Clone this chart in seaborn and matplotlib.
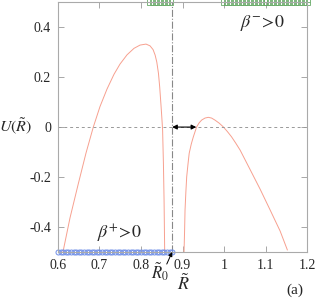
import numpy as np
import pandas as pd
import seaborn as sns
import matplotlib
matplotlib.use("Agg")
import matplotlib.pyplot as plt

# 曲线数据
r_left = [0.612, 0.6289, 0.6482, 0.6675, 0.6851, 0.7012, 0.7181, 0.7349, 0.7494, 0.7663,
          0.7831, 0.7976, 0.812, 0.8217, 0.829, 0.834, 0.838, 0.842, 0.845, 0.848,
          0.850, 0.852, 0.854, 0.8555, 0.857]
u_left = [-0.50, -0.364, -0.232, -0.104, 0.0, 0.082, 0.152, 0.211, 0.252, 0.289,
          0.315, 0.328, 0.332, 0.325, 0.310, 0.288, 0.260, 0.215, 0.160, 0.090,
          0.041, -0.012, -0.150, -0.292, -0.50]
r_right = [0.9036, 0.905, 0.906, 0.908, 0.910, 0.913, 0.916, 0.921, 0.926, 0.934,
           0.940, 0.946, 0.954, 0.962, 0.970, 0.978, 0.988, 0.998, 1.008, 1.018,
           1.028, 1.0386, 1.0627, 1.0867, 1.111, 1.135, 1.1525]
u_right = [-0.50, -0.41, -0.332, -0.26, -0.199, -0.15, -0.105, -0.068, -0.039, 0.001,
           0.017, 0.028, 0.036, 0.039, 0.036, 0.028, 0.016, 0.001, -0.018, -0.039,
           -0.064, -0.092, -0.170, -0.248, -0.332, -0.416, -0.492]

R0 = 0.875
beta_plus_range = [0.6, R0]
beta_minus_ranges = [[0.822, R0], [1.0, 1.2]]

df = pd.concat([
    pd.DataFrame({"R": r_left, "U": u_left, "branch": "left"}),
    pd.DataFrame({"R": r_right, "U": u_right, "branch": "right"}),
])

sns.set_style("ticks")
plt.rcParams["font.family"] = ["Liberation Serif", "DejaVu Serif"]
plt.rcParams["mathtext.fontset"] = "stix"
plt.rcParams["xtick.direction"] = "in"
plt.rcParams["ytick.direction"] = "in"

fig = plt.figure(figsize=(3.15, 2.99), dpi=100)
ax = fig.add_axes([0.184, 0.157, 0.791, 0.836])

sns.lineplot(data=df, x="R", y="U", units="branch", estimator=None, sort=False,
             color="#f7a08f", lw=0.7, ax=ax)

ax.axhline(0, color="#999999", lw=0.7, ls=(0, (3, 3)))
ax.axvline(R0, color="#888888", lw=0.8, ls="-.")

# 区域标记
xb = np.arange(beta_plus_range[0], beta_plus_range[1] + 1e-9, 0.00625)
ax.plot(xb, np.full_like(xb, -0.5), ls="none", marker="o", ms=3.6, mfc="none",
        mec="#6f8fe8", mew=0.7, clip_on=False)
for lo, hi in beta_minus_ranges:
    xg = np.arange(lo, hi + 1e-9, 0.0095)
    ax.plot(xg, np.full_like(xg, 0.5), ls="none", marker="s", ms=4, mfc="none",
            mec="#66aa66", mew=0.6, clip_on=False)
    ax.plot(xg, np.full_like(xg, 0.5), ls="none", marker="+", ms=4,
            mec="#66aa66", mew=0.6, clip_on=False)

ax.annotate("", xy=(R0, 0), xytext=(0.933, 0),
            arrowprops=dict(arrowstyle="<|-|>", color="black", lw=0.8,
                            shrinkA=0, shrinkB=0, mutation_scale=7))

ax.set_xlim(0.6, 1.2)
ax.set_ylim(-0.5, 0.5)
ax.set_xticks([0.6, 0.7, 0.8, 0.9, 1.0, 1.1, 1.2])
ax.set_xticklabels(["0.6", "0.7", "0.8", "0.9", "1", "1.1", "1.2"])
ax.set_yticks([-0.4, -0.2, 0, 0.2, 0.4])
ax.set_yticklabels(["-0.4", "-0.2", "0", "0.2", "0.4"])
ax.tick_params(labelsize=10, length=4, width=0.6, color="#999999",
               top=True, right=True, pad=5)
for s in ax.spines.values():
    s.set_color("#aaaaaa")
    s.set_linewidth(0.8)
ax.set_xlabel("")
ax.set_ylabel("")

fig.text(0.05, 0.575, r"$U(\tilde{R})$", fontsize=11.5, ha="center", va="center")
ax.text(1.093, 0.416, r"$\beta^{-}\!>\!\mathit{0}$", fontsize=13, ha="center", va="center")
ax.text(0.747, -0.428, r"$\beta^{+}\!>\!\mathit{0}$", fontsize=13, ha="center", va="center")
ax.text(0.846, -0.58, r"$\tilde{R}_0$", fontsize=12, ha="center", va="center")
ax.annotate("", xy=(R0, -0.5), xytext=(0.862, -0.548), annotation_clip=False,
            arrowprops=dict(arrowstyle="-|>", color="black", lw=0.7,
                            shrinkA=0, shrinkB=0, mutation_scale=6))
fig.text(0.582, 0.052, r"$\tilde{R}$", fontsize=13, ha="center", va="center")
fig.text(0.937, 0.03, "(a)", fontsize=11, ha="center", va="center")

plt.savefig("out.png", dpi=100)
